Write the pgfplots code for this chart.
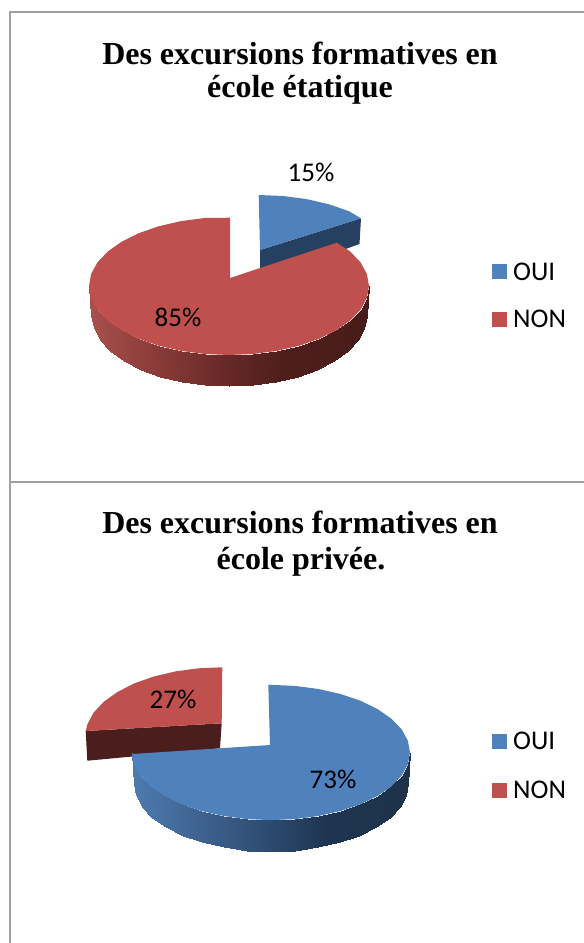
\documentclass[border=0pt]{standalone}
\usepackage{pgfplots}
\pgfplotsset{compat=1.18}
\usepackage{fontspec}
\setmainfont{Carlito}
\newfontfamily\titlefont{Liberation Serif}

\definecolor{pieblue}{RGB}{79,129,189}
\definecolor{piered}{RGB}{192,80,77}
\definecolor{blueside}{RGB}{38,64,97}
\definecolor{redside}{RGB}{74,30,28}
\definecolor{frame}{RGB}{160,160,160}

% shown values: state school 15/85, private school 73/27
\tikzset{
  lab/.style={font=\fontsize{27}{27}\selectfont, text=black, inner sep=0pt},
  ttl/.style={font=\titlefont\bfseries\fontsize{32}{32}\selectfont, text=black, inner sep=0pt}
}

\begin{document}
\begin{tikzpicture}
\path[use as bounding box] (0,0) rectangle (584pt,943pt);
\begin{axis}[
  at={(0,0)}, anchor=south west,
  scale only axis, width=584pt, height=943pt,
  xmin=0, xmax=584, ymin=0, ymax=943, y dir=reverse,
  hide axis, clip=true,
  point meta min=0, point meta max=201,
  colormap={pieside}{[1pt]
    rgb255(0pt)=(168,80,76) rgb255(25pt)=(136,58,56) rgb255(50pt)=(100,40,38)
    rgb255(70pt)=(78,30,28) rgb255(100pt)=(72,28,26)
    rgb255(101pt)=(78,122,176) rgb255(126pt)=(62,98,143) rgb255(151pt)=(44,74,110)
    rgb255(171pt)=(30,52,80) rgb255(201pt)=(30,50,75)},
  side/.style={patch, patch type=rectangle, mesh input=lattice, mesh/rows=2,
    shader=interp, point meta=explicit},
  face/.style={draw=none, fill=#1},
]
% frame
\addplot[frame, line width=2pt] coordinates {(10,943)(10,12)(584,12)};
\addplot[frame, line width=2pt] coordinates {(10,482)(584,482)};

% --- top chart: blue slice
\addplot[face=blueside] coordinates {(260,250)(361,218.3)(359.5,244)(260,280)};
\addplot[face=pieblue] coordinates {(260,250)(258.7,195)(283,196)(306.6,199.1)(328.7,204.2)(348.7,211.1)(361,218.3)};
% top chart: red wall
\addplot[side] table[meta=c] {
x y c
89 286 0
91.1 298 0.8
97.4 309.6 3
107.8 320.5 6.7
121.8 330.4 11.7
139 338.9 17.9
159 345.8 25
181.1 350.9 32.9
204.7 354 41.3
229 355 50
253.3 354 58.7
276.9 350.9 67.1
299 345.8 75
319 338.9 82.1
336.2 330.4 88.3
350.2 320.5 93.3
360.6 309.6 97
366.9 298 99.2
369 286 100
91.5 316 0
93.6 328.2 0.8
99.8 339.9 3
109.9 351 6.7
123.7 361 11.7
140.6 369.6 17.9
160.3 376.6 25
182 381.8 32.9
205.1 385 41.3
229 386 50
252.9 385 58.7
276 381.8 67.1
297.8 376.6 75
317.4 369.6 82.1
334.3 361 88.3
348.1 351 93.3
358.2 339.9 97
364.4 328.2 99.2
366.5 316 100
};
% top chart: red face
\addplot[face=piered] coordinates {(230,278)(230,217.7)(204.7,218)(181.1,221.1)(159,226.2)(139,233.1)(121.8,241.6)(107.8,251.5)(97.4,262.4)(91.1,274)(89,286)(91.1,298)(97.4,309.6)(107.8,320.5)(121.8,330.4)(139,338.9)(159,345.8)(181.1,350.9)(204.7,354)(229,355)(253.3,354)(276.9,350.9)(299,345.8)(319,338.9)(336.2,330.4)(350.2,320.5)(360.6,309.6)(366.9,298)(369,286)(366.9,274)(360.6,262.4)(350.2,251.5)(336.7,242.7)};

% --- bottom chart: red slice
\addplot[face=redside] coordinates {(85.7,731)(221.7,723.3)(220,748.3)(87.3,760.7)};
\addplot[face=piered] coordinates {(221.7,723.3)(222.3,667.3)(198.5,668.3)(175.4,671.4)(153.8,676.5)(134.2,683.4)(117.4,692)(103.7,701.8)(93.5,712.7)(87.4,724.3)(85.7,731)};
% bottom chart: blue wall
\addplot[side] table[meta=c] {
x y c
132 752.5 101
134.1 764.3 101.8
140.3 775.6 104
150.6 786.3 107.7
164.5 796 112.7
181.6 804.3 118.9
201.5 811 126
223.5 816 133.9
246.8 819.1 142.3
271 820.1 151
295.2 819.1 159.7
318.5 816 168.1
340.5 811 176
360.4 804.3 183.1
377.5 796 189.3
391.4 786.3 194.3
401.7 775.6 198
407.9 764.3 200.2
410 752.5 201
134 783.5 101
136.1 795.3 101.8
142.2 806.8 104
152.4 817.5 107.7
166.1 827.2 112.7
182.9 835.6 118.9
202.5 842.4 126
224.1 847.4 133.9
247.2 850.5 142.3
271 851.5 151
294.8 850.5 159.7
317.9 847.4 168.1
339.5 842.4 176
359.1 835.6 183.1
375.9 827.2 189.3
389.6 817.5 194.3
399.8 806.8 198
405.9 795.3 200.2
408 783.5 201
};
% bottom chart: blue face
\addplot[face=pieblue] coordinates {(270,745)(268.3,684.7)(295.2,685.9)(318.5,689)(340.5,694)(360.4,700.7)(377.5,709)(391.4,718.7)(401.7,729.4)(407.9,740.7)(410,752.5)(407.9,764.3)(401.7,775.6)(391.4,786.3)(377.5,796)(360.4,804.3)(340.5,811)(318.5,816)(295.2,819.1)(271,820.1)(246.8,819.1)(223.5,816)(201.5,811)(181.6,804.3)(164.5,796)(150.6,786.3)(140.3,775.6)(134.1,764.3)(132.3,754)};

% legend keys
\addplot[face=pieblue] coordinates {(492,264)(506.7,264)(506.7,279)(492,279)};
\addplot[face=piered] coordinates {(492,312)(506.7,312)(506.7,327)(492,327)};
\addplot[face=pieblue] coordinates {(492,734)(506.7,734)(506.7,749)(492,749)};
\addplot[face=piered] coordinates {(492,783)(506.7,783)(506.7,798)(492,798)};

% texts
\node[ttl] at (axis cs:300,53) {Des excursions formatives en};
\node[ttl] at (axis cs:300,90) {école étatique};
\node[ttl] at (axis cs:300,522) {Des excursions formatives en};
\node[ttl] at (axis cs:301,562) {école privée.};
\node[lab] at (axis cs:311,172) {15\%};
\node[lab] at (axis cs:178,317) {85\%};
\node[lab] at (axis cs:173,699) {27\%};
\node[lab] at (axis cs:333,779) {73\%};
\node[lab, anchor=west] at (axis cs:513,272) {OUI};
\node[lab, anchor=west] at (axis cs:513,319) {NON};
\node[lab, anchor=west] at (axis cs:513,741) {OUI};
\node[lab, anchor=west] at (axis cs:513,790) {NON};
\end{axis}
\end{tikzpicture}
\end{document}
